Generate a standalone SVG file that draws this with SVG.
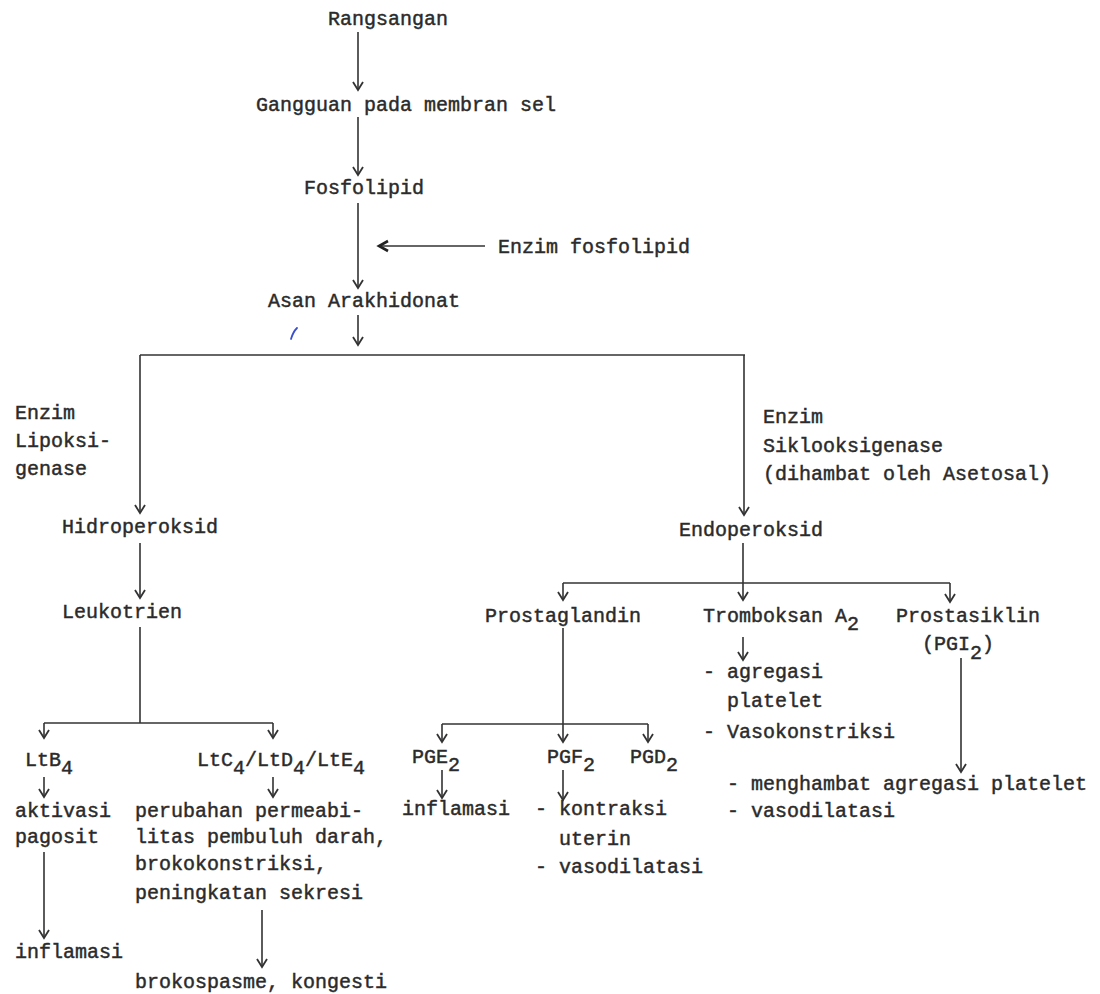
<svg xmlns="http://www.w3.org/2000/svg" width="1100" height="994" viewBox="0 0 1100 994">
<style>
text{font-family:"Liberation Mono","Courier New",monospace;font-size:20px;fill:#2b2b2b;stroke:#2b2b2b;stroke-width:0.45px;white-space:pre}
.c line,.c path{stroke:#333;stroke-width:1.6;fill:none}
</style>
<defs>
<marker id="ah" viewBox="-10 -7 12 14" refX="0" refY="0" markerWidth="12" markerHeight="14" markerUnits="userSpaceOnUse" orient="auto" overflow="visible">
<path d="M-8,-5 L0,0 L-8,5" fill="none" stroke="#333" stroke-width="1.8"/>
</marker>
<marker id="ahb" viewBox="-12 -8 14 16" refX="0" refY="0" markerWidth="14" markerHeight="16" markerUnits="userSpaceOnUse" orient="auto" overflow="visible">
<path d="M-9,-5 L0,0 L-9,5" fill="none" stroke="#222" stroke-width="2.6"/>
</marker>
</defs>
<rect width="1100" height="994" fill="#fff"/>
<g class="c" id="connectors">
<line x1="358" y1="32" x2="358" y2="90" marker-end="url(#ah)"/>
<line x1="358" y1="117" x2="358" y2="175" marker-end="url(#ah)"/>
<line x1="358" y1="203" x2="358" y2="288" marker-end="url(#ah)"/>
<line x1="485" y1="246" x2="379" y2="246" marker-end="url(#ahb)"/>
<line x1="358" y1="315" x2="358" y2="345" marker-end="url(#ah)"/>
<line x1="140" y1="355" x2="745" y2="355"/>
<line x1="140" y1="355" x2="140" y2="513" marker-end="url(#ah)"/>
<line x1="744" y1="355" x2="744" y2="515" marker-end="url(#ah)"/>
<line x1="140" y1="543" x2="140" y2="598" marker-end="url(#ah)"/>
<line x1="140" y1="627" x2="140" y2="723"/>
<line x1="44" y1="723" x2="273" y2="723"/>
<line x1="44" y1="723" x2="44" y2="738" marker-end="url(#ah)"/>
<line x1="273" y1="723" x2="273" y2="738" marker-end="url(#ah)"/>
<line x1="44" y1="777" x2="44" y2="797" marker-end="url(#ah)"/>
<line x1="273" y1="777" x2="273" y2="797" marker-end="url(#ah)"/>
<line x1="44" y1="852" x2="44" y2="938" marker-end="url(#ah)"/>
<line x1="262" y1="910" x2="262" y2="967" marker-end="url(#ah)"/>
<line x1="743" y1="543" x2="743" y2="600" marker-end="url(#ah)"/>
<line x1="563" y1="583" x2="950" y2="583"/>
<line x1="563" y1="583" x2="563" y2="600" marker-end="url(#ah)"/>
<line x1="950" y1="583" x2="950" y2="602" marker-end="url(#ah)"/>
<line x1="743" y1="637" x2="743" y2="660" marker-end="url(#ah)"/>
<line x1="563" y1="628" x2="563" y2="742" marker-end="url(#ah)"/>
<line x1="442" y1="724" x2="648" y2="724"/>
<line x1="442" y1="724" x2="442" y2="742" marker-end="url(#ah)"/>
<line x1="648" y1="724" x2="648" y2="742" marker-end="url(#ah)"/>
<line x1="442" y1="770" x2="442" y2="798" marker-end="url(#ah)"/>
<line x1="563" y1="770" x2="563" y2="800" marker-end="url(#ah)"/>
<line x1="961" y1="658" x2="961" y2="772" marker-end="url(#ah)"/>
</g>
<path id="pen-mark" d="M291,339 Q293,332 297,328" stroke="#3a4fd0" stroke-width="1.8" fill="none" stroke-linecap="round"/>
<g id="rangsangan"><text x="328" y="25">Rangsangan</text></g>
<g id="gangguan"><text x="256" y="111">Gangguan pada membran sel</text></g>
<g id="fosfolipid"><text x="304" y="194">Fosfolipid</text></g>
<g id="enzim-fosfolipid"><text x="498" y="253">Enzim fosfolipid</text></g>
<g id="asan-arakhidonat"><text x="268" y="307">Asan Arakhidonat</text></g>
<g id="enzim-lipoksigenase"><text x="15" y="419">Enzim</text><text x="15" y="447">Lipoksi-</text><text x="15" y="475">genase</text></g>
<g id="enzim-siklooksigenase"><text x="763" y="423">Enzim</text><text x="763" y="452">Siklooksigenase</text><text x="763" y="480">(dihambat oleh Asetosal)</text></g>
<g id="hidroperoksid"><text x="62" y="533">Hidroperoksid</text></g>
<g id="leukotrien"><text x="62" y="618">Leukotrien</text></g>
<g id="endoperoksid"><text x="679" y="536">Endoperoksid</text></g>
<g id="prostaglandin"><text x="485" y="622">Prostaglandin</text></g>
<g id="tromboksan"><text x="703" y="622">Tromboksan A<tspan dy="8">2</tspan></text></g>
<g id="prostasiklin"><text x="896" y="622">Prostasiklin</text><text x="922" y="650">(PGI<tspan dy="9">2</tspan><tspan dy="-9">)</tspan></text></g>
<g id="tromboksan-effects"><text x="703" y="678">- agregasi</text><text x="727" y="707">platelet</text><text x="703" y="738">- Vasokonstriksi</text></g>
<g id="prostasiklin-effects"><text x="727" y="790">- menghambat agregasi platelet</text><text x="727" y="817">- vasodilatasi</text></g>
<g id="ltb4"><text x="25" y="766">LtB<tspan dy="8">4</tspan></text></g>
<g id="ltc4"><text x="197" y="766">LtC<tspan dy="8">4</tspan><tspan dy="-8">/LtD</tspan><tspan dy="8">4</tspan><tspan dy="-8">/LtE</tspan><tspan dy="8">4</tspan></text></g>
<g id="pge2"><text x="412" y="763">PGE<tspan dy="8">2</tspan></text></g>
<g id="pgf2"><text x="547" y="763">PGF<tspan dy="8">2</tspan></text></g>
<g id="pgd2"><text x="630" y="763">PGD<tspan dy="8">2</tspan></text></g>
<g id="aktivasi"><text x="15" y="817">aktivasi</text><text x="15" y="843">pagosit</text></g>
<g id="perubahan"><text x="135" y="817">perubahan permeabi-</text><text x="135" y="843">litas pembuluh darah,</text><text x="135" y="870">brokokonstriksi,</text><text x="135" y="899">peningkatan sekresi</text></g>
<g id="inflamasi-pge"><text x="402" y="815">inflamasi</text></g>
<g id="pgf-effects"><text x="535" y="815">- kontraksi</text><text x="559" y="845">uterin</text><text x="535" y="873">- vasodilatasi</text></g>
<g id="inflamasi-ltb"><text x="15" y="958">inflamasi</text></g>
<g id="brokospasme"><text x="135" y="988">brokospasme, kongesti</text></g>
</svg>
